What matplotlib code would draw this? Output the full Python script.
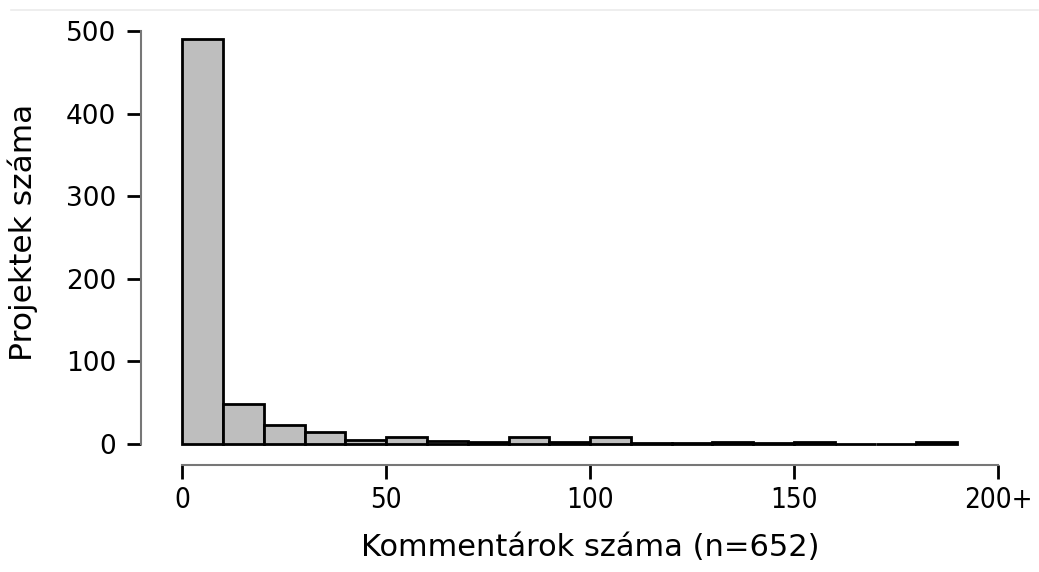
import matplotlib
matplotlib.use("Agg")
import matplotlib.pyplot as plt
from matplotlib.lines import Line2D

# Hisztogram adatai: 10-es sávok, 0-tól 190-ig
BIN_STARTS = list(range(0, 190, 10))
COUNTS = [490, 48, 23, 15, 5, 8, 4, 3, 8, 3, 8, 1, 1, 2, 1, 3, 0, 0, 3]
X_TICKS = [0, 50, 100, 150, 200]
X_TICK_LABELS = ["0", "50", "100", "150", "200+"]
Y_TICKS = [0, 100, 200, 300, 400, 500]

BAR_COLOR = "#bebebe"
SPINE_COLOR = "#777777"
FIG_W, FIG_H, DPI = 1039, 572, 100


def plot_histogram():
    fig = plt.figure(figsize=(FIG_W / DPI, FIG_H / DPI), dpi=DPI)
    ax = fig.add_axes([141 / FIG_W, (FIG_H - 465) / FIG_H,
                       (998 - 141) / FIG_W, (465 - 31) / FIG_H])

    ax.bar(BIN_STARTS, COUNTS, width=10, align="edge", color=BAR_COLOR,
           edgecolor="black", linewidth=2, zorder=3)

    ax.set_xlim(-10.1, 200)
    ax.set_ylim(-25.4, 500)

    for side in ("top", "right"):
        ax.spines[side].set_visible(False)
    for side in ("left", "bottom"):
        ax.spines[side].set_color(SPINE_COLOR)
        ax.spines[side].set_linewidth(1.5)
    ax.spines["left"].set_bounds(0, 500)
    ax.spines["bottom"].set_bounds(0, 200)

    ax.set_yticks(Y_TICKS)
    ax.set_xticks(X_TICKS)
    ax.set_xticklabels(X_TICK_LABELS, family="DejaVu Sans",
                       fontstretch="condensed")
    ax.tick_params(axis="both", direction="out", length=10, width=2,
                   color="black")
    ax.tick_params(axis="x", pad=5, labelsize=20)
    ax.tick_params(axis="y", pad=8, labelsize=19)

    # tengelyfeliratok fix helyen
    fig.text(590 / FIG_W, 1 - 547 / FIG_H, "Kommentárok száma (n=652)",
             fontsize=22, ha="center", va="center")
    fig.text(23 / FIG_W, 1 - 232 / FIG_H, "Projektek száma",
             fontsize=22.5, rotation=90, ha="center", va="center")

    # halvány vonal a kép tetején
    fig.add_artist(Line2D([11 / FIG_W, 1038 / FIG_W],
                          [1 - 10 / FIG_H, 1 - 10 / FIG_H],
                          color="#ebebeb", linewidth=1.2))

    fig.savefig("out.png", dpi=DPI)


if __name__ == "__main__":
    plot_histogram()
